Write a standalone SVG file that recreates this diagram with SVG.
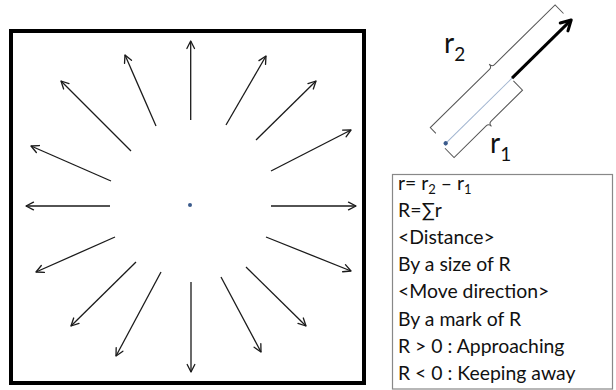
<svg xmlns="http://www.w3.org/2000/svg" width="616" height="390" viewBox="0 0 616 390">
<defs>
<marker id="ah" markerUnits="userSpaceOnUse" markerWidth="12" markerHeight="12" refX="0" refY="0" viewBox="-9 -6 12 12" orient="auto" overflow="visible">
<path d="M-7.5,-3.8 L0,0 L-7.5,3.8" fill="none" stroke="#1a1a1a" stroke-width="1.3" stroke-linecap="round" stroke-linejoin="round"/>
</marker>
<marker id="ahb" markerUnits="userSpaceOnUse" markerWidth="20" markerHeight="20" refX="0" refY="0" viewBox="-14 -10 20 20" orient="auto" overflow="visible">
<path d="M-10,-5.5 L0,0 L-10,5.5" fill="none" stroke="#000" stroke-width="3" stroke-linecap="round" stroke-linejoin="round"/>
</marker>
</defs>
<style>
.ray{stroke:#1a1a1a;stroke-width:1.3;fill:none;marker-end:url(#ah)}
.brk{fill:none;stroke:#555;stroke-width:1}
.t{font-family:Lato,"Liberation Sans",Arial,sans-serif;font-size:19.4px;fill:#111}
.lbl{font-family:Lato,"Liberation Sans",Arial,sans-serif;font-size:28px;fill:#111}
</style>
<rect width="616" height="390" fill="#fff"/>
<g id="field">
<rect x="11" y="31" width="353" height="352" fill="none" stroke="#000" stroke-width="4"/>
<circle cx="190" cy="205" r="2" fill="#3b5b8c"/>
</g>
<g id="connectors">
<line class="ray" x1="190.7" y1="120" x2="190.7" y2="41"/>
<line class="ray" x1="191" y1="282" x2="191" y2="372"/>
<line class="ray" x1="110" y1="206" x2="26" y2="206"/>
<line class="ray" x1="271" y1="206" x2="356" y2="206"/>
<line class="ray" x1="226" y1="125" x2="266" y2="56"/>
<line class="ray" x1="256" y1="140" x2="316" y2="81"/>
<line class="ray" x1="271" y1="171" x2="351" y2="130"/>
<line class="ray" x1="266" y1="237" x2="351" y2="271"/>
<line class="ray" x1="246" y1="267" x2="306" y2="326"/>
<line class="ray" x1="221" y1="277" x2="261" y2="352"/>
<line class="ray" x1="156" y1="126" x2="125" y2="55"/>
<line class="ray" x1="131" y1="151" x2="61" y2="81"/>
<line class="ray" x1="111" y1="181" x2="31" y2="146"/>
<line class="ray" x1="115" y1="237" x2="36" y2="272"/>
<line class="ray" x1="136" y1="262" x2="71" y2="326"/>
<line class="ray" x1="161" y1="272" x2="116" y2="356"/>
</g>
<g id="vector">
<g transform="translate(445.7,143.3) rotate(-44.5)">
<line x1="0" y1="0" x2="93" y2="0" stroke="#9fb3cf" stroke-width="1"/>
<line x1="93" y1="0" x2="176" y2="0" stroke="#000" stroke-width="3" marker-end="url(#ahb)"/>
<circle cx="0" cy="0" r="2.2" fill="#3b5b8c"/>
<path class="brk" d="M0,-14 L0,-22 L83,-22 Q86.5,-22 86.5,-26 Q86.5,-22 90,-22 L175,-22 L175,-10"/>
<path class="brk" d="M-4,3 L-4,16 L41,16 Q44.5,16 44.5,20 Q44.5,16 48,16 L92,16 L92,3"/>
</g>
</g>
<g id="label-r2"><text class="lbl" x="444" y="53">r<tspan font-size="19" dy="8">2</tspan></text></g>
<g id="label-r1"><text class="lbl" x="490" y="153">r<tspan font-size="19" dy="8">1</tspan></text></g>
<g id="legend">
<rect x="392.5" y="174.5" width="220" height="214.5" fill="#fff" stroke="#888" stroke-width="1.2"/>
<text class="t" x="398" y="190">r= r<tspan font-size="13" dy="4">2</tspan><tspan dy="-4"> – r</tspan><tspan font-size="13" dy="4">1</tspan></text>
<text class="t" x="398" y="217">R=∑r</text>
<text class="t" x="398" y="244">&lt;Distance&gt;</text>
<text class="t" x="398" y="271">By a size of R</text>
<text class="t" x="398" y="298">&lt;Move direction&gt;</text>
<text class="t" x="398" y="325.5">By a mark of R</text>
<text class="t" x="398" y="352.5">R &gt; 0 : Approaching</text>
<text class="t" x="398" y="379.5">R &lt; 0 : Keeping away</text>
</g>
</svg>
